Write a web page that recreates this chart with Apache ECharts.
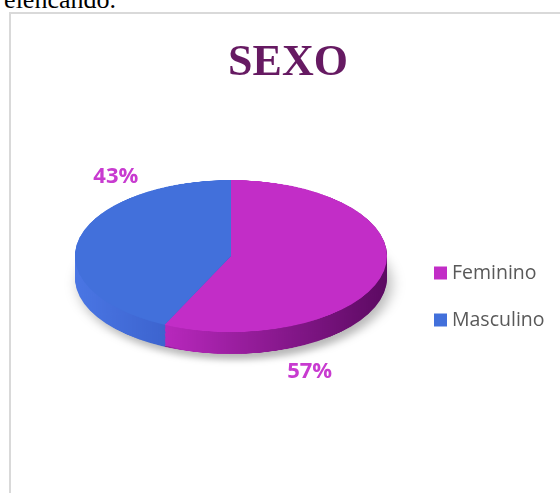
<!DOCTYPE html>
<html>
<head>
<meta charset="utf-8">
<script src="https://cdn.jsdelivr.net/npm/echarts@6/dist/echarts.min.js"></script>
<style>
    html, body { margin: 0; padding: 0; background: #fff; overflow: hidden; }
    #wrap { position: relative; width: 560px; height: 493px; overflow: hidden; }
    #frame { position: absolute; left: 9px; top: 12px; width: 600px; height: 600px;
             border-left: 2px solid #d9d9d9; border-top: 2px solid #d9d9d9; }
    #lead { position: absolute; right: 444px; top: -15px; font: 26px 'Liberation Serif';
            color: #000; white-space: nowrap; }
    /* the pie is drawn round, then squashed to look tilted */
    #pie { position: absolute; left: 0; top: 0; width: 560px; height: 1012px;
           transform-origin: 0 0; }
    #main { position: absolute; left: 0; top: 0; width: 560px; height: 493px; }
</style>
</head>
<body>
<div id="wrap">
    <div id="lead">elencando.</div>
    <div id="frame"></div>
    <div id="pie"></div>
    <div id="main"></div>
</div>
<script>
    var categories = ['Feminino', 'Masculino'];
    var values = [57, 43];

    var topColors = ['#c22dc7', '#4270db'];
    var sideColors = [
        ['#b828bd', '#5c0a62'],
        ['#4a76e4', '#3357c0']
    ];

    // tilt: ellipse 156 x 76 px, rim 22 px deep
    var squash = 76 / 156;
    var pieCx = 231, pieR = 156;
    var pieCy = 256 / squash;
    var depth = 22 / squash;

    var pieDom = document.getElementById('pie');
    pieDom.style.transform = 'scaleY(' + squash + ')';
    var pieChart = echarts.init(pieDom);

    function slices(colorFn) {
        return categories.map(function (c, i) {
            return { name: c, value: values[i], itemStyle: { color: colorFn(i) } };
        });
    }

    var pieSeries = [];
    var first = true;
    for (var d = depth; d > 0; d -= 2.5) {
        pieSeries.push({
            type: 'pie',
            silent: true,
            animation: false,
            center: [pieCx, pieCy + d],
            radius: pieR,
            label: { show: false },
            labelLine: { show: false },
            itemStyle: first ? {
                borderWidth: 0,
                shadowBlur: 14,
                shadowColor: 'rgba(0,0,0,0.28)',
                shadowOffsetX: 4,
                shadowOffsetY: 12
            } : { borderWidth: 0 },
            data: slices(function (i) {
                return new echarts.graphic.LinearGradient(0, 0, 1, 0, [
                    { offset: 0, color: sideColors[i][0] },
                    { offset: 1, color: sideColors[i][1] }
                ]);
            })
        });
        first = false;
    }
    // top face
    pieSeries.push({
        type: 'pie',
        silent: true,
        animation: false,
        center: [pieCx, pieCy],
        radius: pieR,
        label: { show: false },
        labelLine: { show: false },
        itemStyle: { borderWidth: 0 },
        data: slices(function (i) { return topColors[i]; })
    });
    pieChart.setOption({ series: pieSeries });

    // title, legend and the percent labels
    var mainChart = echarts.init(document.getElementById('main'));
    mainChart.setOption({
        title: {
            text: 'SEXO',
            left: 283,
            top: 37,
            textAlign: 'center',
            textStyle: {
                fontFamily: 'Liberation Serif',
                fontSize: 44,
                fontWeight: 'bold',
                color: '#661a62'
            }
        },
        legend: {
            orient: 'vertical',
            left: 429,
            top: 258,
            icon: 'rect',
            itemWidth: 13,
            itemHeight: 13,
            itemGap: 27,
            selectedMode: false,
            textStyle: {
                fontFamily: 'Open Sans',
                fontSize: 19.5,
                color: '#595959',
                lineHeight: 20
            },
            data: categories.map(function (c, i) {
                return { name: c, itemStyle: { color: topColors[i], opacity: 1 } };
            })
        },
        series: [{
            // invisible pie that only places the percent labels
            type: 'pie',
            silent: true,
            animation: false,
            center: [212.75, 274],
            radius: 269,
            startAngle: 57.4,
            percentPrecision: 0,
            itemStyle: { color: 'rgba(0,0,0,0)', borderWidth: 0 },
            label: {
                show: true,
                position: 'inside',
                formatter: '{d}%',
                fontFamily: 'Open Sans',
                fontSize: 22,
                fontWeight: 'bold',
                color: '#c83bd0'
            },
            labelLine: { show: false },
            data: categories.map(function (c, i) {
                return { name: c, value: values[i] };
            })
        }]
    });
</script>
</body>
</html>
